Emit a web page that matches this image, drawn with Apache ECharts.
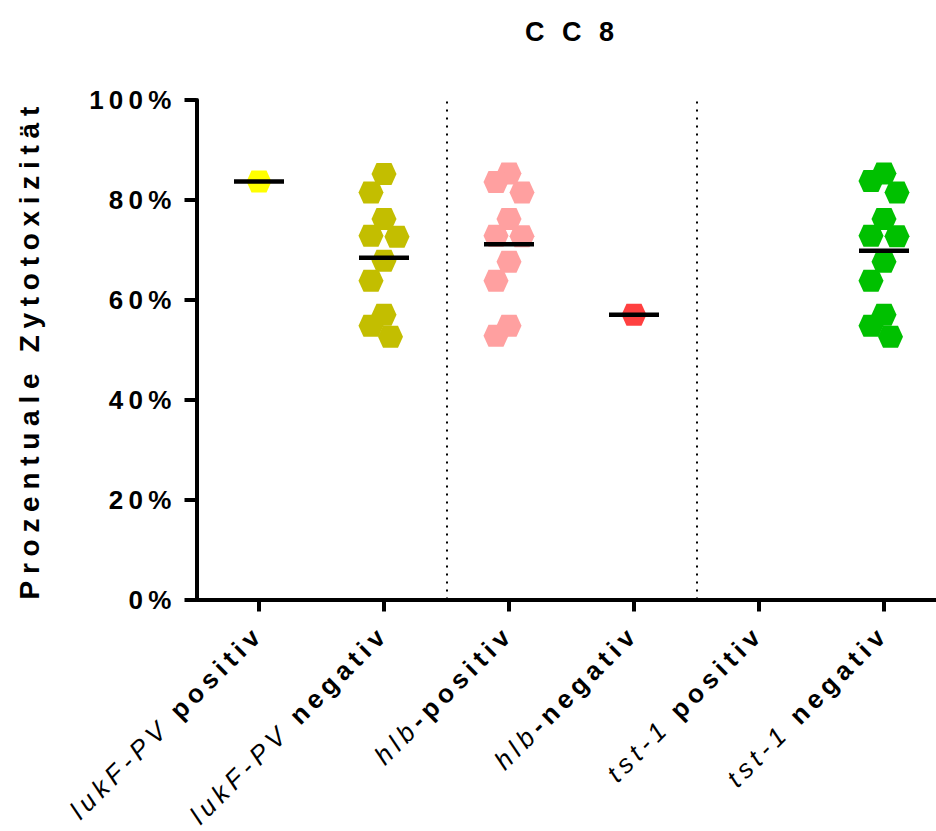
<!DOCTYPE html>
<html>
<head>
<meta charset="utf-8">
<script src="https://cdn.jsdelivr.net/npm/echarts@6/dist/echarts.min.js"></script>
<style>
  html, body { margin: 0; padding: 0; background: #fff; }
  #main { width: 936px; height: 831px; }
  /* wide tracking on the labels, by text size */
  #main text { letter-spacing: 0.2em; }
  #main text[style*="28px"] { letter-spacing: 0.24em; }
  #main text[style*="27px"] { letter-spacing: 0.65em; }
</style>
</head>
<body>
<div id="main"></div>
<script>
// ---- data ----
const chartTitle = 'CC8';
const yAxisName = 'Prozentuale Zytotoxizität';
const geneNames = ['lukF-PV', 'lukF-PV', 'hlb', 'hlb', 'tst-1', 'tst-1'];
const joiners = [' ', ' ', '-', '-', ' ', ' '];
const statusNames = ['positiv', 'negativ', 'positiv', 'negativ', 'positiv', 'negativ'];
const yTickValues = [0, 20, 40, 60, 80, 100];

const lukfPositiv = [83.7];
const lukfNegativ = [85.2, 81.5, 76.2, 72.8, 72.6, 67.8, 63.8, 57.0, 54.8, 52.6];
const hlbPositiv  = [85.3, 83.6, 81.5, 76.2, 72.8, 72.7, 67.6, 63.8, 54.8, 52.8];
const hlbNegativ  = [57.0];
const tstPositiv  = [];
const tstNegativ  = [85.3, 83.8, 81.5, 76.2, 72.8, 72.7, 67.6, 63.8, 57.0, 54.8, 52.6];

const groupColors = ['#FFFF00', '#C3BE00', '#FFA0A0', '#FF4040', '#00C000', '#00C000'];

// ---- derived ----
const groups = [lukfPositiv, lukfNegativ, hlbPositiv, hlbNegativ, tstPositiv, tstNegativ];
const categories = geneNames.map((g, i) => g + joiners[i] + statusNames[i]);
const FONT = '"Liberation Sans", Arial, Helvetica, sans-serif';

function trackingFor(size) {
  if (size === 27) return 0.65;
  if (size === 28) return 0.24;
  return 0.2;
}

// text measurement that includes the letter tracking applied by the stylesheet
const measureCtx = document.createElement('canvas').getContext('2d');
if (echarts.setPlatformAPI) {
  echarts.setPlatformAPI({
    measureText(text, font) {
      font = font || '12px sans-serif';
      measureCtx.font = font;
      const m = measureCtx.measureText(text);
      const sm = /(\d+(?:\.\d+)?)px/.exec(font);
      const size = sm ? parseFloat(sm[1]) : 12;
      const track = size * trackingFor(size);
      return {
        width: m.width + track * Array.from(text).length,
        actualBoundingBoxAscent: m.actualBoundingBoxAscent,
        actualBoundingBoxDescent: m.actualBoundingBoxDescent
      };
    }
  });
}

const mean = arr => arr.reduce((s, v) => s + v, 0) / arr.length;

// simple beeswarm: spread close values sideways (pixel offsets)
function swarmOffsets(values, toPy, step, minDist) {
  const order = values.map((v, i) => i).sort((a, b) => values[b] - values[a]);
  const cands = [0, -step, step, -2 * step, 2 * step];
  const placed = [];
  const off = new Array(values.length).fill(0);
  for (const i of order) {
    const y = toPy(values[i]);
    let best = 0, bestD = -1;
    for (const c of cands) {
      let d = Infinity;
      for (const p of placed) d = Math.min(d, Math.hypot(c - p.x, y - p.y));
      if (d >= minDist) { best = c; break; }
      if (d > bestD) { bestD = d; best = c; }
    }
    off[i] = best;
    placed.push({ x: best, y: y });
  }
  return off;
}

const hexagon = 'path://M5 0 L20 0 L25 11 L20 22 L5 22 L0 11 Z';
const axisColor = '#000';

const chart = echarts.init(document.getElementById('main'), null, { renderer: 'svg' });

const baseOption = {
  animation: false,
  backgroundColor: '#fff',
  title: {
    text: chartTitle,
    left: 525, top: 10, padding: 0,
    textStyle: { fontSize: 27, fontWeight: 'bold', fontFamily: FONT, color: '#000' }
  },
  grid: {
    left: 196.5, top: 100, width: 750, height: 499.5,
    containLabel: false,
    outerBoundsMode: 'none'
  },
  xAxis: [
    {
      type: 'category',
      data: categories,
      boundaryGap: true,
      axisLine: { show: true, onZero: false, lineStyle: { color: axisColor, width: 4 } },
      axisTick: { show: true, alignWithLabel: true, length: 12, lineStyle: { color: axisColor, width: 4 } },
      splitLine: { show: false },
      axisLabel: {
        rotate: 45,
        margin: 30,
        interval: 0,
        formatter: (value, idx) => '{it|' + geneNames[idx] + (joiners[idx] === ' ' ? ' ' : '') + '}{b|' + (joiners[idx] === '-' ? '-' : '') + statusNames[idx] + '}',
        rich: {
          it: { fontSize: 26, fontStyle: 'italic', fontWeight: 'normal', fontFamily: FONT, color: '#000' },
          b: { fontSize: 26, fontWeight: 'bold', fontFamily: FONT, color: '#000' }
        }
      }
    },
    { type: 'value', min: -0.5, max: 5.5, show: false }
  ],
  yAxis: {
    type: 'value',
    min: yTickValues[0],
    max: yTickValues[yTickValues.length - 1],
    interval: yTickValues[1] - yTickValues[0],
    name: yAxisName,
    nameLocation: 'middle',
    nameGap: 150,
    nameTextStyle: { fontSize: 28, fontWeight: 'bold', fontFamily: FONT, color: '#000' },
    axisLine: { show: true, onZero: false, lineStyle: { color: axisColor, width: 4 } },
    axisTick: { show: true, length: 12, lineStyle: { color: axisColor, width: 4 } },
    splitLine: { show: false },
    axisLabel: {
      margin: 20,
      formatter: '{value}%',
      fontSize: 26, fontWeight: 'bold', fontFamily: FONT, color: '#000'
    }
  },
  series: []
};

chart.setOption(baseOption);

// conversions through the chart's own axes
const toPy = v => chart.convertToPixel({ yAxisIndex: 0 }, v);
const x0 = chart.convertToPixel({ xAxisIndex: 1 }, 0);
const x1 = chart.convertToPixel({ xAxisIndex: 1 }, 1);
const pxPerCat = Math.abs(x1 - x0) || 125;

const series = [];
groups.forEach((vals, gi) => {
  if (!vals.length) return;
  const offs = swarmOffsets(vals, toPy, 6.5, 22);
  series.push({
    type: 'scatter',
    name: categories[gi],
    xAxisIndex: 1,
    yAxisIndex: 0,
    symbol: hexagon,
    symbolSize: [25, 22],
    itemStyle: { color: groupColors[gi], opacity: 1 },
    z: 2,
    data: vals.map((v, k) => [gi + offs[k] / pxPerCat, v])
  });
});

// group means as short horizontal bars
const meanData = [];
groups.forEach((vals, gi) => { if (vals.length) meanData.push([gi, mean(vals)]); });
series.push({
  type: 'custom',
  xAxisIndex: 1,
  yAxisIndex: 0,
  z: 5,
  data: meanData,
  renderItem: (params, api) => {
    const p = api.coord([api.value(0), api.value(1)]);
    return {
      type: 'line',
      shape: { x1: p[0] - 25, y1: p[1], x2: p[0] + 25, y2: p[1] },
      style: { stroke: '#000', lineWidth: 4.5 }
    };
  }
});

// dotted separators between the gene groups
const separators = [];
for (let i = 1; i < geneNames.length; i++) {
  if (geneNames[i] !== geneNames[i - 1]) separators.push({ xAxis: i - 0.5 });
}
series.push({
  type: 'scatter',
  xAxisIndex: 1,
  yAxisIndex: 0,
  data: [],
  markLine: {
    silent: true,
    symbol: 'none',
    label: { show: false },
    lineStyle: { color: '#000', width: 2, type: [2, 6] },
    data: separators
  }
});

chart.setOption({ series: series });
</script>
</body>
</html>
